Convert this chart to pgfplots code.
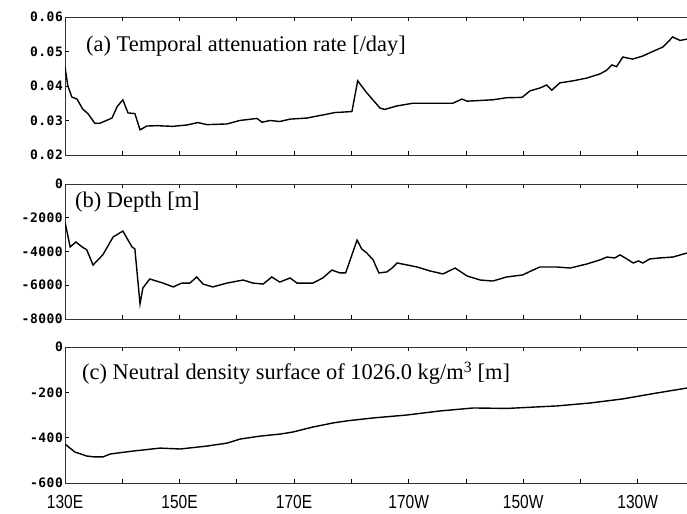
\documentclass[border=0pt]{standalone}
\usepackage{pgfplots}
\pgfplotsset{compat=1.18}
\usepackage{fontspec}
\setmainfont{Liberation Serif}
\newfontfamily\ymono[LetterSpace=4]{DejaVu Sans Mono Bold}
\newfontfamily\xsans[FakeStretch=0.82]{Liberation Sans}
\pgfplotsset{
  panel/.style={
    scale only axis, width=622bp,
    xmin=130, xmax=238.6,
    axis x line*=box, axis y line*=left,
    tick align=inside, major tick length=4bp,
    xtick={130,140,...,230}, xticklabels={},
    scaled y ticks=false,
    tick style={black, line width=0.7bp},
    axis line style={black!80, line width=0.8bp},
    yticklabel style={font=\ymono\fontsize{13}{13}\selectfont, inner sep=2bp},
    every axis plot post/.append style={black, line width=1.4bp, mark=none},
  }
}
\begin{document}
\begin{tikzpicture}
\path[use as bounding box] (0,0) rectangle (687bp,514bp);
% (a)
\begin{axis}[panel, at={(65bp,359bp)}, anchor=south west, height=138bp,
  ymin=0.02, ymax=0.06, ytick={0.02,0.03,0.04,0.05,0.06},
  yticklabels={0.02,0.03,0.04,0.05,0.06}]
\addplot coordinates {
(130.0,0.0455)(130.5,0.0400)(131.2,0.0368)(132.1,0.0362)(133.1,0.0333)
(134.0,0.0320)(135.2,0.0292)(136.1,0.0292)(138.2,0.0307)(139.1,0.0340)
(140.1,0.0360)(141.0,0.0322)(142.2,0.0320)(143.1,0.0273)(144.3,0.0284)
(146.1,0.0285)(148.8,0.0283)(151.3,0.0287)(153.2,0.0294)(154.8,0.0288)
(158.3,0.0290)(160.5,0.0300)(163.5,0.0306)(164.4,0.0295)(165.8,0.0300)
(167.5,0.0297)(169.3,0.0304)(172.2,0.0307)(175.0,0.0316)(177.1,0.0323)
(179.2,0.0325)(180.1,0.0326)(181.1,0.0415)(182.7,0.0380)(185.0,0.0336)
(185.8,0.0332)(187.9,0.0342)(190.7,0.0350)(197.7,0.0350)(199.3,0.0362)
(200.2,0.0356)(204.7,0.0360)(207.1,0.0366)(209.8,0.0367)(211.2,0.0386)
(212.9,0.0394)(214.1,0.0403)(215.0,0.0388)(216.4,0.0409)(218.7,0.0415)
(221.1,0.0423)(223.4,0.0435)(224.6,0.0446)(225.5,0.0461)(226.3,0.0456)
(227.4,0.0484)(229.1,0.0478)(230.9,0.0487)(232.6,0.0500)(234.4,0.0513)
(236.1,0.0542)(237.4,0.0532)(238.6,0.0536)
};
\end{axis}
% (b)
\begin{axis}[panel, at={(65bp,195bp)}, anchor=south west, height=135bp,
  ymin=-8000, ymax=0, ytick={-8000,-6000,-4000,-2000,0},
  yticklabels={-8000,-6000,-4000,-2000,0}]
\addplot coordinates {
(130.0,-2250)(130.9,-3730)(131.9,-3440)(133.0,-3730)(133.8,-3900)
(134.9,-4800)(136.6,-4200)(138.4,-3140)(140.1,-2790)(141.7,-3730)
(142.2,-3850)(143.1,-7100)(143.6,-6160)(144.8,-5630)(147.1,-5870)
(148.9,-6100)(150.4,-5870)(151.8,-5870)(153.0,-5510)(154.1,-5930)
(155.8,-6100)(158.3,-5870)(161.1,-5690)(162.8,-5870)(164.6,-5930)
(166.1,-5510)(167.5,-5810)(169.3,-5570)(170.5,-5870)(173.3,-5870)
(175.0,-5570)(176.6,-5100)(178.0,-5270)(179.0,-5270)(181.0,-3320)
(181.8,-3850)(182.7,-4090)(183.8,-4500)(184.8,-5270)(186.2,-5210)
(187.1,-4980)(188.0,-4680)(191.5,-4920)(193.7,-5150)(196.0,-5330)
(198.1,-4980)(200.2,-5450)(202.5,-5690)(204.7,-5750)(207.1,-5510)
(209.9,-5390)(211.7,-5100)(212.9,-4920)(215.9,-4920)(218.2,-4980)
(221.1,-4740)(223.4,-4500)(224.6,-4330)(226.0,-4380)(226.9,-4200)
(227.8,-4380)(229.2,-4680)(230.1,-4560)(230.9,-4680)(232.1,-4440)
(233.9,-4380)(236.1,-4330)(238.6,-4090)
};
\end{axis}
% (c)
\begin{axis}[panel, at={(65bp,31bp)}, anchor=south west, height=136bp,
  ymin=-600, ymax=0, ytick={-600,-400,-200,0},
  yticklabels={-600,-400,-200,0},
  xticklabels={130E,,150E,,170E,,170W,,150W,,130W},
  xticklabel style={font=\xsans\fontsize{19}{19}\selectfont, yshift=-9bp}]
\addplot coordinates {
(130.0,-428)(131.7,-463)(133.8,-481)(135.2,-485)(136.6,-485)
(137.9,-472)(141.9,-459)(146.6,-446)(150.1,-450)(154.8,-437)
(158.3,-424)(160.6,-406)(164.1,-393)(167.6,-384)(169.8,-375)
(173.3,-353)(176.8,-335)(179.2,-326)(183.8,-313)(189.7,-300)
(195.5,-282)(201.3,-269)(207.2,-271)(215.9,-260)(221.7,-247)
(227.4,-229)(233.3,-203)(238.6,-181)
};
\end{axis}
\node[anchor=base west, inner sep=0, font=\fontsize{22.5}{25}\selectfont] at (86bp,462bp) {(a) Temporal attenuation rate [/day]};
\node[anchor=base west, inner sep=0, font=\fontsize{22.5}{25}\selectfont] at (75bp,306bp) {(b) Depth [m]};
\node[anchor=base west, inner sep=0, font=\fontsize{22.5}{25}\selectfont] at (82bp,134bp) {(c) Neutral density surface of 1026.0 kg/m\textsuperscript{3} [m]};
\end{tikzpicture}
\end{document}
